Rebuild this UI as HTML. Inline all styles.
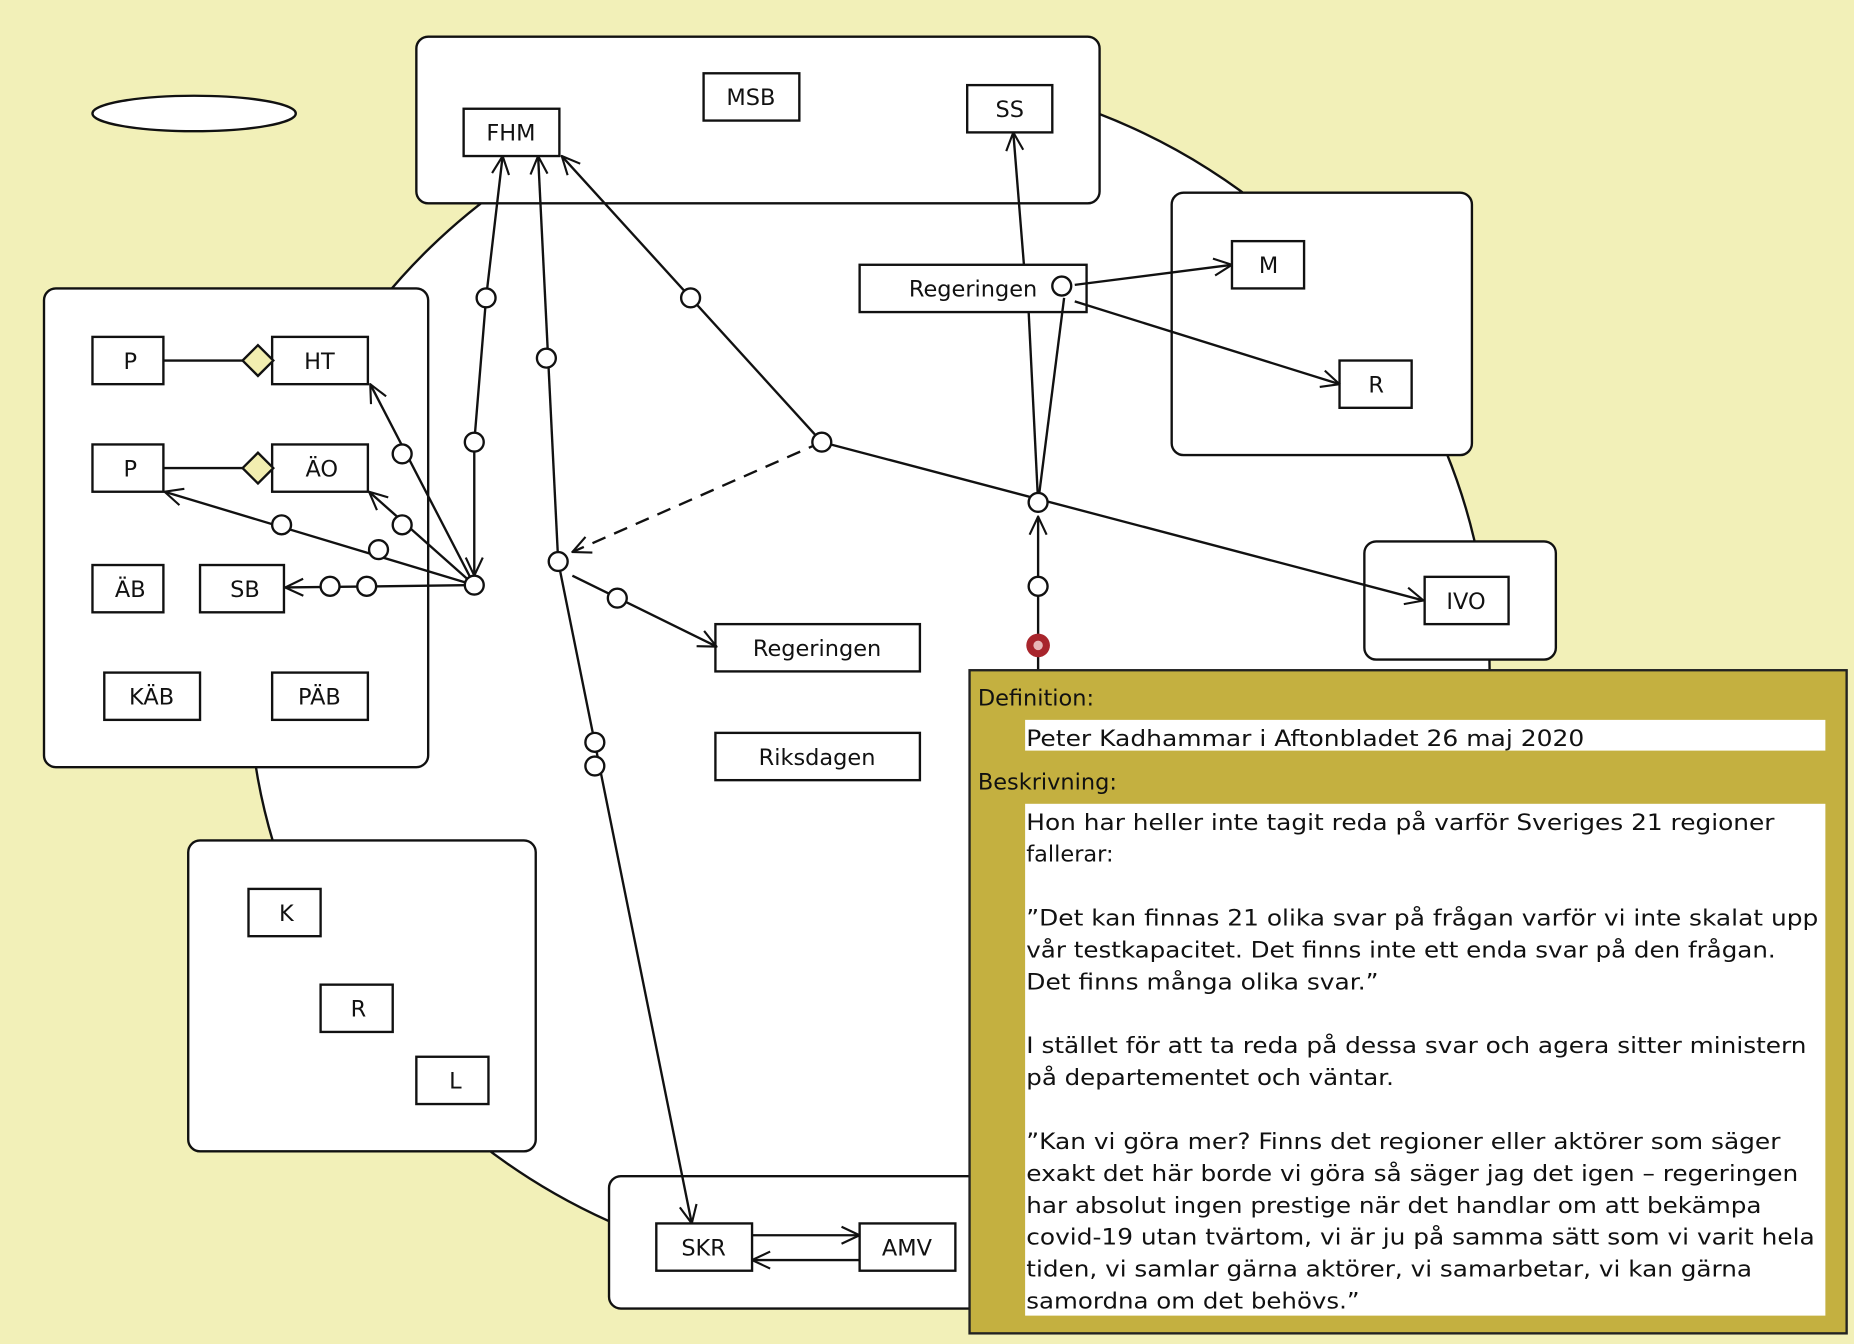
<!DOCTYPE html>
<html><head><meta charset="utf-8"><style>
html,body{margin:0;padding:0;background:#f2f0b8;}
svg{display:block}
text{font-family:"DejaVu Sans","Liberation Sans",sans-serif;font-size:19px;fill:#111}
</style></head><body>
<svg width="1854" height="1344" viewBox="0 0 1568 1137" xmlns="http://www.w3.org/2000/svg">
<defs>
<marker id="a" viewBox="0 0 20 20" refX="19" refY="10" markerWidth="18" markerHeight="18" markerUnits="userSpaceOnUse" orient="auto-start-reverse"><path d="M2 2 L19 10 L2 18" fill="none" stroke="#111" stroke-width="2"/></marker>
</defs>
<rect width="1568" height="1137" fill="#f2f0b8"/>
<ellipse cx="735" cy="570" rx="525" ry="510" fill="#fff" stroke="#111" stroke-width="2"/>
<ellipse cx="164" cy="96" rx="86" ry="15" fill="#fff" stroke="#111" stroke-width="2"/>
<g fill="#fff" stroke="#111" stroke-width="2">
<rect x="352" y="31" width="578" height="141" rx="10"/>
<rect x="37" y="244" width="325" height="405" rx="10"/>
<rect x="991" y="163" width="254" height="222" rx="10"/>
<rect x="1154" y="458" width="162" height="100" rx="10"/>
<rect x="159" y="711" width="294" height="263" rx="10"/>
<rect x="515" y="995" width="330" height="112" rx="10"/>
</g>
<g fill="#fff" stroke="#111" stroke-width="2">
<rect x="392" y="92" width="81" height="40"/><rect x="595" y="62" width="81" height="40"/><rect x="818" y="72" width="72" height="40"/>
<rect x="727" y="224" width="192" height="40"/><rect x="1042" y="204" width="61" height="40"/><rect x="1133" y="305" width="61" height="40"/>
<rect x="1205" y="488" width="71" height="40"/>
<rect x="78" y="285" width="60" height="40"/><rect x="230" y="285" width="81" height="40"/>
<rect x="78" y="376" width="60" height="40"/><rect x="230" y="376" width="81" height="40"/>
<rect x="78" y="478" width="60" height="40"/><rect x="169" y="478" width="71" height="40"/>
<rect x="88" y="569" width="81" height="40"/><rect x="230" y="569" width="81" height="40"/>
<rect x="605" y="528" width="173" height="40"/><rect x="605" y="620" width="173" height="40"/>
<rect x="210" y="752" width="61" height="40"/><rect x="271" y="833" width="61" height="40"/><rect x="352" y="894" width="61" height="40"/>
<rect x="555" y="1035" width="81" height="40"/><rect x="727" y="1035" width="81" height="40"/>
</g>
<g text-anchor="middle">
<text x="432" y="119">FHM</text><text x="635" y="89">MSB</text><text x="854" y="99">SS</text>
<text x="823" y="251">Regeringen</text><text x="1073" y="231">M</text><text x="1164" y="332">R</text>
<text x="1240" y="515">IVO</text>
<text x="110" y="312">P</text><text x="270" y="312">HT</text><text x="110" y="403">P</text><text x="272" y="403">ÄO</text>
<text x="110" y="505">ÄB</text><text x="207" y="505">SB</text><text x="128" y="596">KÄB</text><text x="270" y="596">PÄB</text>
<text x="691" y="555">Regeringen</text><text x="691" y="647">Riksdagen</text>
<text x="242" y="779">K</text><text x="303" y="860">R</text><text x="385" y="921">L</text>
<text x="595" y="1062">SKR</text><text x="767" y="1062">AMV</text>
</g>
<g stroke="#111" stroke-width="2" fill="none">
<line x1="138" y1="305" x2="230" y2="305"/><line x1="138" y1="396" x2="230" y2="396"/>
<polyline points="425,132 411,252 401,374 401,487" marker-start="url(#a)" marker-end="url(#a)"/>
<line x1="401" y1="495" x2="313" y2="325" marker-end="url(#a)"/>
<line x1="401" y1="495" x2="312" y2="416" marker-end="url(#a)"/>
<line x1="401" y1="495" x2="139" y2="416" marker-end="url(#a)"/>
<line x1="401" y1="495" x2="241" y2="497" marker-end="url(#a)"/>
<line x1="472" y1="475" x2="455" y2="132" marker-end="url(#a)"/>
<line x1="472" y1="475" x2="585" y2="1035" marker-end="url(#a)"/>
<line x1="484" y1="487" x2="606" y2="547" marker-end="url(#a)"/>
<line x1="695" y1="374" x2="475" y2="132" marker-end="url(#a)"/>
<line x1="695" y1="374" x2="484" y2="467" stroke-dasharray="12,8" marker-end="url(#a)"/>
<line x1="695" y1="374" x2="1204" y2="508" marker-end="url(#a)"/>
<line x1="866" y1="224" x2="857" y2="112" marker-end="url(#a)"/>
<line x1="909" y1="241" x2="1042" y2="224" marker-end="url(#a)"/>
<line x1="909" y1="255" x2="1133" y2="325" marker-end="url(#a)"/>
<line x1="878" y1="425" x2="870" y2="264"/><line x1="878" y1="425" x2="900" y2="252"/>
<line x1="878" y1="567" x2="878" y2="437" marker-end="url(#a)"/>
<line x1="636" y1="1045" x2="727" y2="1045" marker-end="url(#a)"/>
<line x1="727" y1="1066" x2="636" y2="1066" marker-end="url(#a)"/>
</g>
<g fill="#fff" stroke="#111" stroke-width="2">
<circle cx="411" cy="252" r="8"/><circle cx="401" cy="374" r="8"/><circle cx="401" cy="495" r="8"/>
<circle cx="340" cy="384" r="8"/><circle cx="340" cy="444" r="8"/><circle cx="238" cy="444" r="8"/><circle cx="320" cy="465" r="8"/>
<circle cx="279" cy="496" r="8"/><circle cx="310" cy="496" r="8"/>
<circle cx="462" cy="303" r="8"/><circle cx="472" cy="475" r="8"/><circle cx="522" cy="506" r="8"/>
<circle cx="503" cy="628" r="8"/><circle cx="503" cy="648" r="8"/>
<circle cx="584" cy="252" r="8"/><circle cx="695" cy="374" r="8"/>
<circle cx="898" cy="242" r="8"/><circle cx="878" cy="425" r="8"/><circle cx="878" cy="496" r="8"/>
</g>
<circle cx="878" cy="546" r="10" fill="#a8252c"/><circle cx="878" cy="546" r="4" fill="#e8b8b8"/>
<polygon points="218,292 231,305 218,318 205,305" fill="#f2eeb0" stroke="#111" stroke-width="2"/>
<polygon points="218,383 231,396 218,409 205,396" fill="#f2eeb0" stroke="#111" stroke-width="2"/>
<rect x="820" y="567" width="742" height="561" fill="#c4b040" stroke="#222" stroke-width="2"/>
<rect x="867" y="609" width="677" height="26" fill="#fff"/>
<rect x="867" y="680" width="677" height="433" fill="#fff"/>
<g style="font-size:21px">
<text x="827" y="597">Definition:</text>
<text x="868" y="631" textLength="472" lengthAdjust="spacingAndGlyphs">Peter Kadhammar i Aftonbladet 26 maj 2020</text>
<text x="827" y="668">Beskrivning:</text>
<text x="868" y="702" textLength="633" lengthAdjust="spacingAndGlyphs">Hon har heller inte tagit reda på varför Sveriges 21 regioner</text>
<text x="868" y="729">fallerar:</text>
<text x="868" y="783" textLength="670" lengthAdjust="spacingAndGlyphs">”Det kan finnas 21 olika svar på frågan varför vi inte skalat upp</text>
<text x="868" y="810" textLength="634" lengthAdjust="spacingAndGlyphs">vår testkapacitet. Det finns inte ett enda svar på den frågan.</text>
<text x="868" y="837" textLength="298" lengthAdjust="spacingAndGlyphs">Det finns många olika svar.”</text>
<text x="868" y="891" textLength="660" lengthAdjust="spacingAndGlyphs">I stället för att ta reda på dessa svar och agera sitter ministern</text>
<text x="868" y="918" textLength="311" lengthAdjust="spacingAndGlyphs">på departementet och väntar.</text>
<text x="868" y="972" textLength="638" lengthAdjust="spacingAndGlyphs">”Kan vi göra mer? Finns det regioner eller aktörer som säger</text>
<text x="868" y="999" textLength="653" lengthAdjust="spacingAndGlyphs">exakt det här borde vi göra så säger jag det igen – regeringen</text>
<text x="868" y="1026" textLength="622" lengthAdjust="spacingAndGlyphs">har absolut ingen prestige när det handlar om att bekämpa</text>
<text x="868" y="1053" textLength="667" lengthAdjust="spacingAndGlyphs">covid-19 utan tvärtom, vi är ju på samma sätt som vi varit hela</text>
<text x="868" y="1080" textLength="614" lengthAdjust="spacingAndGlyphs">tiden, vi samlar gärna aktörer, vi samarbetar, vi kan gärna</text>
<text x="868" y="1107" textLength="282" lengthAdjust="spacingAndGlyphs">samordna om det behövs.”</text>
</g>
</svg>
</body></html>
